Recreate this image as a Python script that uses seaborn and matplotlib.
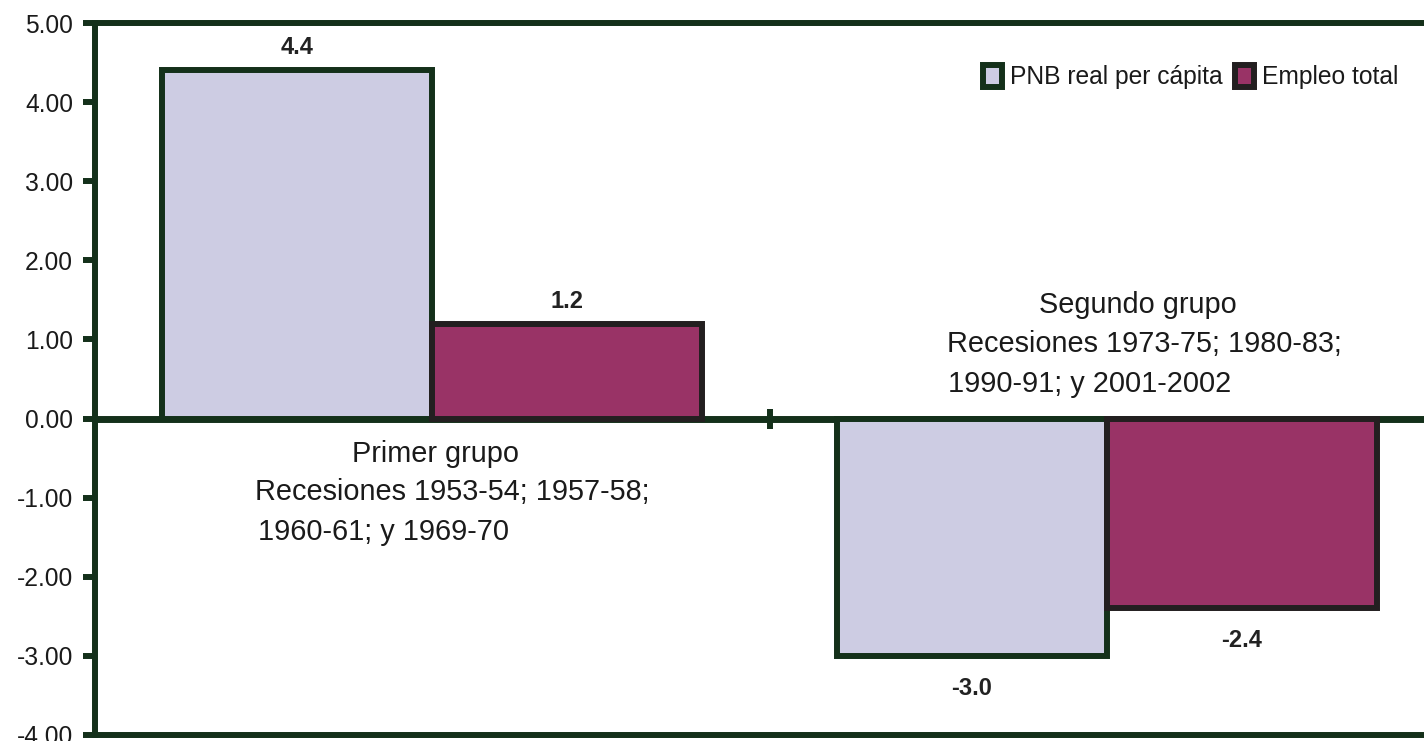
#!/usr/bin/env python3
"""Recesiones: PNB real per capita vs empleo total"""

import matplotlib
matplotlib.use('Agg')
import matplotlib.pyplot as plt
import pandas as pd
import seaborn as sns

# --------------------------------------------------
groups = ['Primer grupo', 'Segundo grupo']
series = ['PNB real per cápita', 'Empleo total']
pnb = [4.4, -3.0]
empleo = [1.2, -2.4]

yticks = [-4, -3, -2, -1, 0, 1, 2, 3, 4, 5]

note1 = ['Primer grupo', 'Recesiones 1953-54; 1957-58;', '1960-61; y 1969-70']
note2 = ['Segundo grupo', 'Recesiones 1973-75; 1980-83;',
         '1990-91; y 2001-2002']

fill = {'PNB real per cápita': '#cdcce3', 'Empleo total': '#993366'}
edge = {'PNB real per cápita': '#14301a', 'Empleo total': '#231f20'}
GREEN = '#14301a'
INK = '#1a1a1a'

# --------------------------------------------------
sns.set_style('white')
plt.rcParams['axes.unicode_minus'] = False
plt.rcParams['font.family'] = ['Liberation Sans', 'DejaVu Sans']

df = pd.DataFrame({
    'grupo': groups * 2,
    'serie': [series[0]] * 2 + [series[1]] * 2,
    'valor': pnb + empleo,
})

fig = plt.figure(figsize=(14.24, 7.41), dpi=100)
ax = fig.add_axes([94.5 / 1424, 6 / 741, 1350 / 1424, 712 / 741])

sns.barplot(data=df, x='grupo', y='valor', hue='serie', order=groups,
            hue_order=series, palette=fill, width=0.8, legend=False,
            saturation=1, ax=ax)

for cont, name in zip(ax.containers, series):
    for bar in cont:
        bar.set_edgecolor(edge[name])
        bar.set_linewidth(4.3)
        v = bar.get_height()
        x = bar.get_x() + bar.get_width() / 2
        if v >= 0:
            ax.annotate('{:.1f}'.format(v), (x, v), xytext=(0, 8),
                        textcoords='offset points', ha='center',
                        va='bottom', fontsize=17, fontweight='bold',
                        color='#222222')
        else:
            ax.annotate('{:.1f}'.format(v), (x, v), xytext=(0, -15),
                        textcoords='offset points', ha='center', va='top',
                        fontsize=17, fontweight='bold', color='#222222')

ax.set_xlim(-0.5, 1.5)
ax.set_ylim(-4, 5)
ax.set_yticks(yticks)
ax.set_yticklabels(['{:.2f}'.format(t) for t in yticks], fontsize=17.7,
                   color=INK)
ax.set_xticks([])
ax.set_xlabel('')
ax.set_ylabel('')
ax.tick_params(axis='y', direction='out', length=8.5, width=4.3,
               color=GREEN, pad=7, left=True)

for s in ax.spines.values():
    s.set_visible(True)
    s.set_color(GREEN)
    s.set_linewidth(4.3)

# category axis crossing at zero
yfrac = (0 - yticks[0]) / (yticks[-1] - yticks[0])
sec = ax.secondary_xaxis(yfrac)
sec.set_xticks([0.5])
sec.set_xticklabels([''])
sec.tick_params(direction='inout', length=14.5, width=4.3, color=GREEN)
for s in sec.spines.values():
    s.set_color(GREEN)
    s.set_linewidth(5)

# group notes
kw = dict(va='baseline', fontsize=20.8, color=INK)
ax.text(0.005, -0.55, note1[0], ha='center', **kw)
ax.text(-0.262, -1.03, note1[1], ha='left', **kw)
ax.text(-0.258, -1.536, note1[2], ha='left', **kw)
ax.text(1.046, 1.334, note2[0], ha='center', **kw)
ax.text(0.763, 0.84, note2[1], ha='left', **kw)
ax.text(0.764, 0.335, note2[2], ha='left', **kw)

leg = ax.legend(handles=list(ax.containers), labels=series,
                loc='center right', bbox_to_anchor=(0.966, 0.924),
                ncol=2, frameon=False, fontsize=17.7, borderpad=0,
                handlelength=0.77, handleheight=1.0, handletextpad=0.33,
                columnspacing=0.5, borderaxespad=0)
for t in leg.get_texts():
    t.set_color(INK)

fig.savefig('out.png', dpi=100)
